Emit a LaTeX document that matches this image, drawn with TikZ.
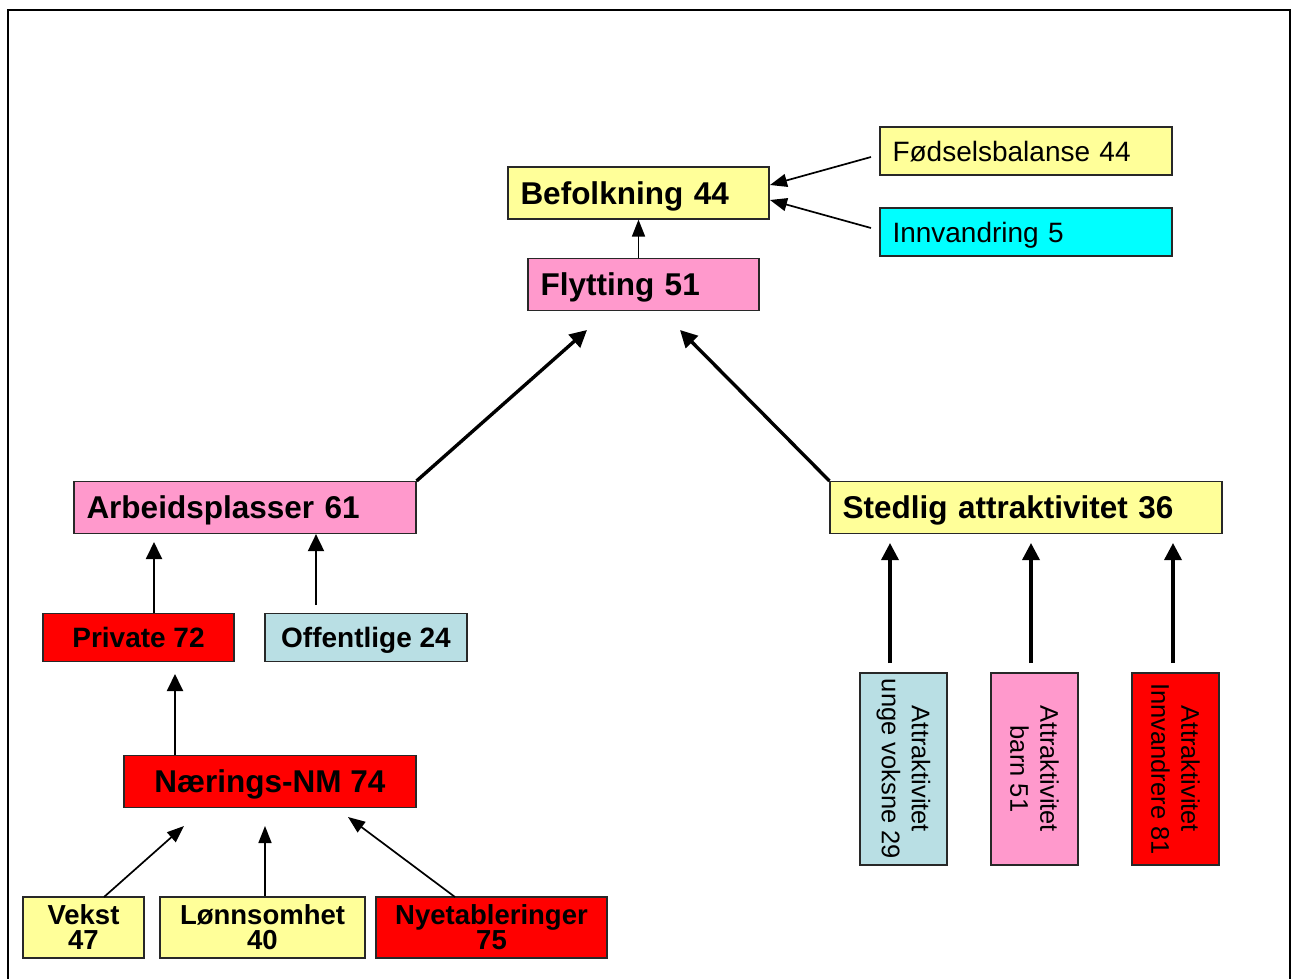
\documentclass[tikz,border=0pt]{standalone}
\usepackage{fontspec}
\setmainfont{Liberation Sans}
\usetikzlibrary{arrows.meta}
\definecolor{cyel}{RGB}{255,255,153}
\definecolor{cpink}{RGB}{255,153,204}
\definecolor{ccyan}{RGB}{0,255,255}
\definecolor{cred}{RGB}{255,0,0}
\definecolor{clblue}{RGB}{185,223,228}
\definecolor{cbord}{RGB}{40,40,40}
\tikzset{
  box/.style={draw=cbord, line width=1.2pt, rectangle, inner ysep=0pt},
  bigl/.style={box, font=\fontsize{31.5}{36}\selectfont\bfseries, align=left, inner xsep=12.5pt, text height=22.6pt, text depth=0pt, minimum height=#1},
  regl/.style={box, font=\fontsize{28}{32}\selectfont, align=left, inner xsep=12.5pt, text height=20pt, text depth=0pt, minimum height=48pt},
  midc/.style={box, font=\fontsize{28}{32}\selectfont\bfseries, align=center, inner xsep=0pt, text height=20pt, text depth=0pt, minimum height=#1},
  twol/.style={box, font=\fontsize{27.5}{25}\selectfont\bfseries, align=center, inner xsep=0pt, minimum height=61pt},
  vert/.style={box, font=\fontsize{25.5}{30}\selectfont, align=center, inner xsep=0pt, rotate=-90, minimum width=192pt, minimum height=87pt},
  arr/.style={line width=1.7pt, -{Triangle[length=17pt,width=13pt]}},
  arrw/.style={line width=1.9pt, -{Triangle[length=17pt,width=16pt]}},
  arrt/.style={line width=3.4pt, -{Triangle[length=17pt,width=17pt]}},
}
\begin{document}
\begin{tikzpicture}[x=1pt,y=-1pt]
\useasboundingbox (0,0) rectangle (1298,978);
\draw[line width=2.6pt] (8,1000) -- (8,10) -- (1290,10) -- (1290,1000);

% nodes
\node[bigl=52pt, fill=cyel, text width=236pt] (bef) at (638.5,193) {Befolkning 44};
\node[regl, fill=cyel, text width=267pt] (fod) at (1026,151) {Fødselsbalanse 44};
\node[regl, fill=ccyan, text width=267pt] (inn) at (1026,232) {Innvandring 5};
\node[bigl=52pt, fill=cpink, text width=206pt] (fly) at (643.5,284.5) {Flytting 51};
\node[bigl=52pt, fill=cpink, text width=317pt] (arb) at (245,507.5) {Arbeidsplasser 61};
\node[bigl=52pt, fill=cyel, text width=367pt] (sted) at (1026,507.5) {Stedlig attraktivitet 36};
\node[midc=48.5pt, fill=cred, minimum width=191pt] (priv) at (138.5,637.5) {Private 72};
\node[midc=48.5pt, fill=clblue, minimum width=202pt] (off) at (366,637.5) {Offentlige 24};
\node[midc=52pt, fill=cred, minimum width=292pt, font=\fontsize{31.5}{36}\selectfont\bfseries, text height=22.6pt] (naer) at (270,781.5) {Nærings-NM 74};
\node[twol, fill=cyel, minimum width=121pt] (vek) at (83.5,927.5) {Vekst\\47};
\node[twol, fill=cyel, minimum width=205pt] (lon) at (262.5,927.5) {Lønnsomhet\\40};
\node[twol, fill=cred, minimum width=231pt] (nye) at (491.5,927.5) {Nyetableringer\\75};
\node[vert, fill=clblue] (a1) at (903.5,769) {Attraktivitet\\unge voksne 29};
\node[vert, fill=cpink] (a2) at (1034.5,769) {Attraktivitet\\barn 51};
\node[vert, fill=cred] (a3) at (1175.5,769) {Attraktivitet\\Innvandrere 81};

% free ends
\coordinate (tfod) at (770,185);
\coordinate (sfod) at (871,157);
\coordinate (tinn) at (770,200);
\coordinate (sinn) at (871,228);
\coordinate (tfl1) at (587,330);
\coordinate (tfl2) at (680,330);
\coordinate (tar1) at (154,542);
\coordinate (sar2) at (316,605);
\coordinate (tpr) at (175,674);
\coordinate (tn1) at (184,826);
\coordinate (sn1) at (104,897);
\coordinate (tn2) at (265,826);
\coordinate (tn3) at (348,817);
\coordinate (sn3) at (455,897);
\coordinate (ts1) at (890,543);
\coordinate (ts2) at (1031,543);
\coordinate (ts3) at (1173,543);
\coordinate (ss) at (0,663);

% connectors
\draw[arr] (bef.south |- fly.north) -- (bef.south);
\draw[arr] (sfod) -- (tfod);
\draw[arr] (sinn) -- (tinn);
\draw[arrt] (arb.north east) -- (tfl1);
\draw[arrt] (sted.north west) -- (tfl2);
\draw[arrw] (priv.north -| tar1) -- (tar1);
\draw[arrw] (sar2) -- (sar2 |- arb.south);
\draw[arrw] (naer.north -| tpr) -- (tpr);
\draw[arr] (sn1) -- (tn1);
\draw[arr] (lon.north -| tn2) -- (tn2);
\draw[arr] (sn3) -- (tn3);
\draw[arrt] (ts1 |- ss) -- (ts1);
\draw[arrt] (ts2 |- ss) -- (ts2);
\draw[arrt] (ts3 |- ss) -- (ts3);
\end{tikzpicture}
\end{document}
